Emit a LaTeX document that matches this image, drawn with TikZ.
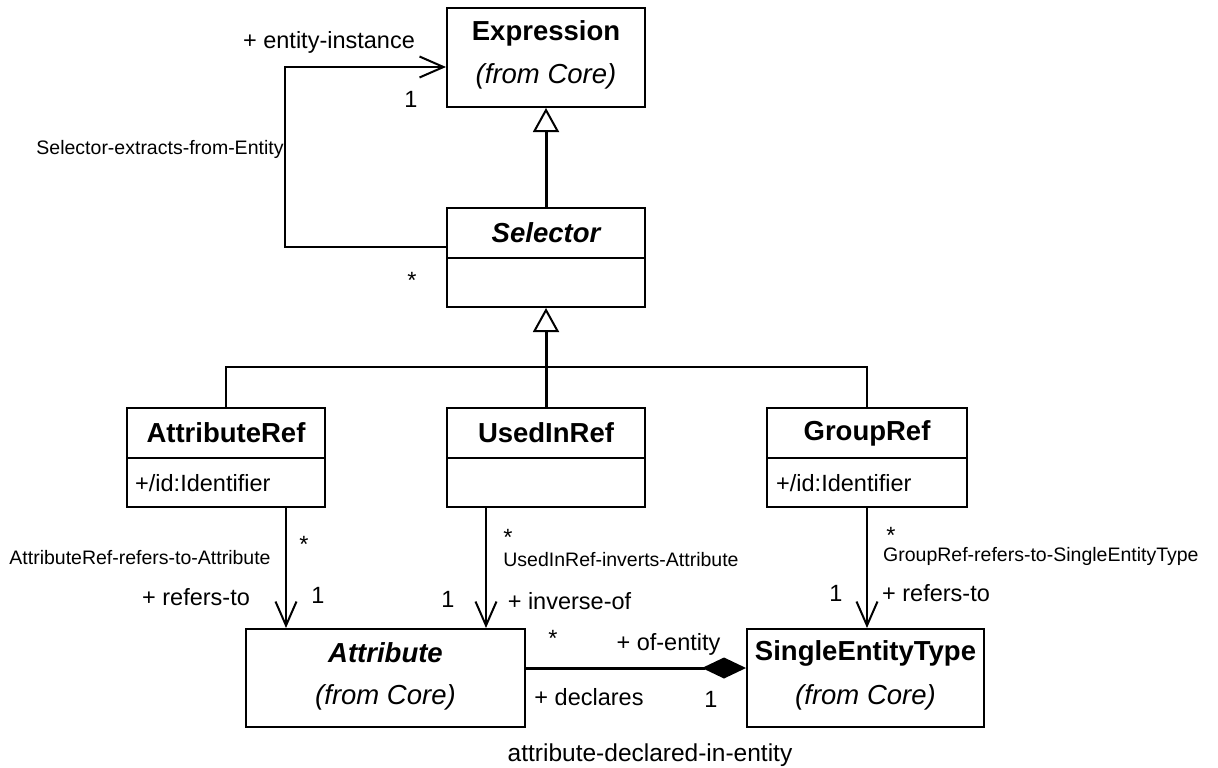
\documentclass[tikz,border=0pt]{standalone}
\usepackage{fontspec}
\setmainfont{Liberation Sans}
\usetikzlibrary{arrows.meta}
\begin{document}
\begin{tikzpicture}[x=1pt,y=-1pt,
  cls/.style={draw, line width=2pt, inner sep=0pt, rectangle},
  boxline/.style={line width=2pt},
  title/.style={font=\fontsize{27.5}{32}\selectfont\bfseries, inner sep=0pt},
  ititle/.style={font=\fontsize{27.5}{32}\selectfont\bfseries\itshape, inner sep=0pt},
  sub/.style={font=\fontsize{27.5}{32}\selectfont\itshape, inner sep=0pt},
  attrtxt/.style={font=\fontsize{23.5}{28}\selectfont, inner sep=0pt, anchor=west},
  lbl/.style={font=\fontsize{23.5}{28}\selectfont, inner sep=0pt},
  small/.style={font=\fontsize{19.5}{23}\selectfont, inner sep=0pt},
  assoc/.style={line width=2.2pt},
  gen/.style={line width=3pt},
  comp/.style={line width=3pt},
  openarrow/.style={-{Straight Barb[length=24pt,width=21pt,line width=2pt]}},
  genarrow/.style={-{Triangle[open,length=24pt,width=26pt,line width=2pt]}},
  comparrow/.style={-{Diamond[length=44pt,width=21pt]}}
]
\useasboundingbox (0,0) rectangle (1218,768);
\clip (0,0) rectangle (1218,768);

% ---- classes ----
\node[cls, minimum width=198pt, minimum height=99pt] (expr) at (546,57.5) {};
\node[title] (exprT) at (546,33) {Expression};
\node[sub] (exprS) at (546,76) {(from Core)};

\node[cls, minimum width=198pt, minimum height=99pt] (sel) at (546,257.5) {};
\draw[boxline] (sel.west) -- (sel.east);
\node[ititle] (selT) at (546,233) {Selector};

\node[cls, minimum width=198pt, minimum height=99pt] (aref) at (226,457.5) {};
\draw[boxline] (aref.west) -- (aref.east);
\node[title] (arefT) at (226,433) {AttributeRef};
\node[attrtxt] (arefA) at (135,483) {+/id:Identifier};

\node[cls, minimum width=198pt, minimum height=99pt] (uref) at (546,457.5) {};
\draw[boxline] (uref.west) -- (uref.east);
\node[title] (urefT) at (546,433) {UsedInRef};

\node[cls, minimum width=200pt, minimum height=99pt] (gref) at (867,457.5) {};
\draw[boxline] (gref.west) -- (gref.east);
\node[title] (grefT) at (867,433) {GroupRef};
\node[attrtxt] (grefA) at (776,483) {+/id:Identifier};

\node[cls, minimum width=279pt, minimum height=98pt] (attr) at (385.5,678) {};
\node[ititle] (attrT) at (385.5,653) {Attribute};
\node[sub] (attrS) at (385.5,697) {(from Core)};

\node[cls, minimum width=237pt, minimum height=98pt] (set) at (865.5,678) {};
\node[title] (setT) at (865.5,653) {SingleEntityType};
\node[sub] (setS) at (865.5,697) {(from Core)};

% ---- generalizations ----
\draw[gen, genarrow] (sel.north) -- (expr.south);
\coordinate (bar) at (546,367);
\draw[assoc] (aref.north) |- (bar) -| (gref.north);
\draw[gen, genarrow] (uref.north) -- (sel.south);

% ---- Selector-extracts-from-Entity ----
\coordinate (loopB) at (285,247);
\coordinate (loopT) at (285,67);
\draw[assoc, openarrow] ([yshift=10.5pt]sel.west) -- (loopB) -- (loopT) -- ([yshift=-9.5pt]expr.west);
\node[lbl] (l1) at (329,42) {+ entity-instance};
\node[lbl] (l2) at (411,99) {1};
\node[small] (l3) at (160,149) {Selector-extracts-from-Entity};
\node[lbl] (l4) at (412,280) {*};

% ---- AttributeRef-refers-to-Attribute ----
\draw[assoc, openarrow] ([xshift=60pt]aref.south) -- ([xshift=60pt]aref.south |- attr.north);
\node[small] (m1) at (140,558) {AttributeRef-refers-to-Attribute};
\node[lbl] (m2) at (304,544) {*};
\node[lbl] (m3) at (196,597) {+ refers-to};
\node[lbl] (m4) at (318,595) {1};

% ---- UsedInRef-inverts-Attribute ----
\draw[assoc, openarrow] ([xshift=-60pt]uref.south) -- ([xshift=-60pt]uref.south |- attr.north);
\node[lbl] (n1) at (508,537) {*};
\node[small] (n2) at (621,560) {UsedInRef-inverts-Attribute};
\node[lbl] (n3) at (448,599) {1};
\node[lbl] (n4) at (569.5,601) {+ inverse-of};

% ---- GroupRef-refers-to-SingleEntityType ----
\draw[assoc, openarrow] (gref.south) -- (gref.south |- set.north);
\node[lbl] (g1) at (891,535) {*};
\node[small, anchor=west] (g2) at (883,556) {GroupRef-refers-to-SingleEntityType};
\node[lbl] (g3) at (836,593) {1};
\node[lbl] (g4) at (936,593) {+ refers-to};

% ---- attribute-declared-in-entity ----
\draw[comp, comparrow] ([yshift=10pt]attr.east) -- ([yshift=10pt]set.west);
\node[lbl] (c1) at (553,638) {*};
\node[lbl] (c2) at (668.5,644) {+ of-entity};
\node[lbl] (c3) at (589,697) {+ declares};
\node[lbl] (c4) at (711,699) {1};
\node[lbl, font=\fontsize{24.5}{29}\selectfont] (c5) at (650,755) {attribute-declared-in-entity};
\end{tikzpicture}
\end{document}
